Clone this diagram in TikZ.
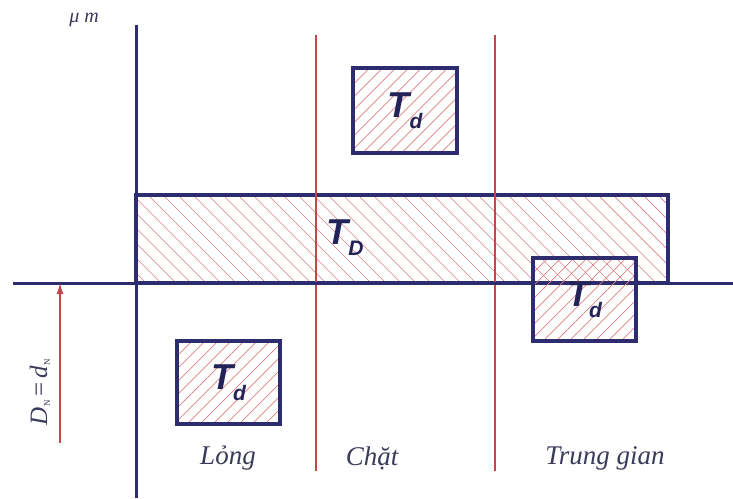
\documentclass[tikz,border=0pt]{standalone}
\usepackage{fontspec}
\setmainfont{Liberation Serif}
\setsansfont{Liberation Sans}
\usetikzlibrary{arrows.meta,calc}
\definecolor{navy}{HTML}{2C2C6E}
\definecolor{hred}{HTML}{DC8080}
\definecolor{lred}{HTML}{C04848}
\definecolor{txt}{HTML}{3A3A5A}
\definecolor{tdc}{HTML}{23235A}
\newcommand\tdtext[1]{{\sffamily\itshape\bfseries\fontsize{36}{36}\selectfont T\raisebox{-11pt}{\fontsize{21}{21}\selectfont #1}}}
\newcommand\subN{{\fontsize{9}{9}\selectfont\raisebox{-3pt}{\upshape N}}}
\tikzset{
  hline/.style={draw=hred, line width=0.7pt},
  hatchNE/.style={path picture={
    \foreach \k in {-16,...,16}{
      \draw[hline] ($(path picture bounding box.center)+(\k*13pt,0pt)+(-150pt,-150pt)$) -- ++(300pt,300pt);}}},
  hatchNW/.style={path picture={
    \foreach \k in {-26,...,26}{
      \draw[hline] ($(path picture bounding box.center)+(\k*15pt,0pt)+(-150pt,150pt)$) -- ++(300pt,-300pt);}}},
  tdbox/.style={draw=navy, line width=3.2pt, hatchNE, text=tdc, inner sep=0pt},
  bigbox/.style={draw=navy, line width=3.2pt, hatchNW, inner sep=0pt},
  axis/.style={draw=navy, line width=3pt},
  zone/.style={draw=lred, line width=1.4pt},
  lbl/.style={text=txt, font=\itshape\fontsize{27}{27}\selectfont, inner sep=0pt},
  dim/.style={draw=lred, line width=1.3pt, -{Latex[length=11pt,width=7pt]}}
}
\begin{document}
\begin{tikzpicture}[x=1pt,y=-1pt]
\useasboundingbox (0,0) rectangle (733,498);
% big tolerance zone
\node[bigbox, minimum width=532pt, minimum height=88pt] (TD) at (402,239) {};
\node[text=tdc, inner sep=0pt] (TDlab) at (345,238) {\tdtext{D}};
% zone separators
\coordinate (z1t) at (316,35); \coordinate (z1b) at (316,471);
\coordinate (z2t) at (495,35); \coordinate (z2b) at (495,471);
\draw[zone] (z1t) -- (z1b);
\draw[zone] (z2t) -- (z2b);
% axes
\coordinate (hl) at (13,283); \coordinate (hr) at (733,283);
\coordinate (vt) at (136,25); \coordinate (vb) at (136,498);
\draw[axis] (hl) -- (hr);
\draw[axis] (vt) -- (vb);
% shaft tolerance zones
\node[tdbox, minimum width=104pt, minimum height=85pt] (tdtop) at (405,110.5) {\tdtext{d}};
\node[tdbox, minimum width=103pt, minimum height=83pt] (tdright) at (584.5,299.5) {\tdtext{d}};
\node[tdbox, minimum width=103pt, minimum height=83pt] (tdleft) at (228.5,382.5) {\tdtext{d}};
% labels
\node[lbl] (l1) at (228,458) {Lỏng};
\node[lbl] (l2) at (372,458) {Chặt};
\node[lbl] (l3) at (605,458) {Trung gian};
\node[lbl, font=\itshape\fontsize{20}{20}\selectfont] (unit) at (84,20) {μ m};
% nominal size arrow
\coordinate (ab) at (60,443); \coordinate (at) at (60,283);
\draw[dim] (ab) -- (at);
\node[lbl, rotate=90, font=\itshape\fontsize{25}{25}\selectfont] (DN) at (40,392) {D\subN\,{\upshape =}\,d\subN};
\end{tikzpicture}
\end{document}
